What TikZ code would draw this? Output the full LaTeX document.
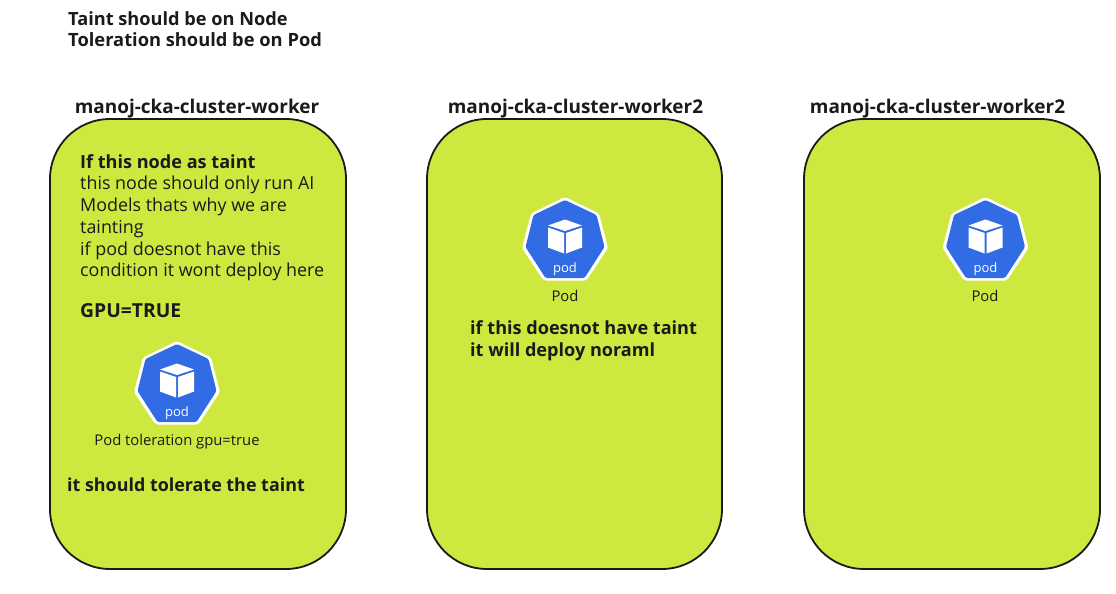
\documentclass[tikz,border=0pt]{standalone}
\usepackage{fontspec}
\setmainfont{Open Sans}
\definecolor{lime}{HTML}{CFE83F}
\definecolor{ink}{HTML}{1A1A1A}
\definecolor{kblue}{HTML}{326CE5}
\tikzset{
  x=1pt,y=-1pt,
  nodebox/.style={draw=ink,fill=lime,line width=1.8pt,rounded corners=60pt},
  head/.style={anchor=base west,inner sep=0,text=ink,font=\fontsize{18.1}{22}\selectfont\bfseries},
  title/.style={anchor=base,inner sep=0,text=ink,font=\fontsize{18.95}{22}\selectfont\bfseries},
  body/.style={anchor=base west,inner sep=0,text=ink,font=\fontsize{17.9}{21.7}\selectfont},
  podcap/.style={anchor=base,inner sep=0,text=ink,font=\fontsize{14.8}{17}\selectfont},
  podicon/.pic={
    \fill[white,rounded corners=2pt] (0,-43.5) -- (34,-27) -- (43,7.5) -- (21.5,40) -- (-21.5,40) -- (-43,7.5) -- (-34,-27) -- cycle;
    \fill[kblue,rounded corners=1.5pt] (0,-40.5) -- (31.5,-25.5) -- (39.5,6.5) -- (19.5,37.5) -- (-19.5,37.5) -- (-39.5,6.5) -- (-31.5,-25.5) -- cycle;
    \fill[white] (0,-21) -- (17,-15) -- (0,-9.5) -- (-17,-15) -- cycle;
    \fill[white] (-17,-13) -- (-1,-7.5) -- (-1,13) -- (-17,7) -- cycle;
    \fill[white] (17,-13) -- (1,-7.5) -- (1,13) -- (17,7) -- cycle;
    \node[inner sep=0,anchor=base,text=white,font=\fontsize{13}{16}\selectfont] at (0,32) {pod};
  }
}
\begin{document}
\begin{tikzpicture}
\useasboundingbox (0,0) rectangle (1116,594);
\node[head,font=\fontsize{18.2}{22}\selectfont\bfseries] (t1) at (68,26) {Taint should be on Node};
\node[head,font=\fontsize{18.3}{22}\selectfont\bfseries] (t2) at (68,47) {Toleration should be on Pod};
\node[title] (l1) at (197,113) {manoj-cka-cluster-worker};
\node[title] (l2) at (575.5,113) {manoj-cka-cluster-worker2};
\node[title] (l3) at (937.5,113) {manoj-cka-cluster-worker2};
\draw[nodebox] (50,119) rectangle (346,569);
\draw[nodebox] (427,119) rectangle (722,569);
\draw[nodebox] (804,119) rectangle (1100,569);
\node[head] (a1) at (80,168) {If this node as taint};
\node[body] (a2) at (80,189) {this node should only run AI};
\node[body] (a3) at (80,211) {Models thats why we are};
\node[body] (a4) at (80,233) {tainting};
\node[body] (a5) at (80,255) {if pod doesnot have this};
\node[body] (a6) at (80,276) {condition it wont deploy here};
\node[head,font=\fontsize{19.3}{22}\selectfont\bfseries] (a7) at (80,317) {GPU=TRUE};
\pic at (177,384.5) {podicon};
\node[podcap] (c1) at (177,445) {Pod toleration gpu=true};
\node[head,font=\fontsize{17.9}{22}\selectfont\bfseries] (a8) at (67,491) {it should tolerate the taint};
\pic at (565,240.5) {podicon};
\node[podcap] (c2) at (565,301) {Pod};
\node[head] (b1) at (470,334) {if this doesnot have taint};
\node[head] (b2) at (470,356) {it will deploy noraml};
\pic at (985.5,240.5) {podicon};
\node[podcap] (c3) at (985,301) {Pod};
\end{tikzpicture}
\end{document}
